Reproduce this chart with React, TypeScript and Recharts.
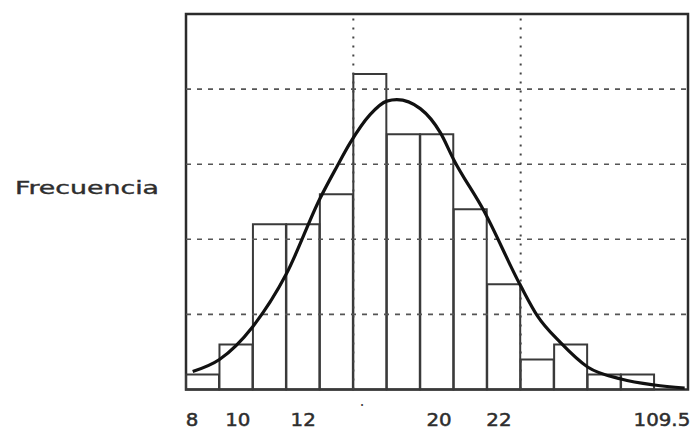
import React from 'react';
import { ComposedChart, Bar, Line, XAxis, YAxis, ReferenceLine, ReferenceArea } from 'recharts';

// Histogram bins (class index) and frequencies
const bins = ['1', '2', '3', '4', '5', '6', '7', '8', '9', '10', '11', '12', '13', '14', '15'];
const frequencies = [1, 3, 11, 11, 13, 21, 17, 17, 12, 7, 2, 3, 1, 1, 0];

// Fitted curve (x in bin units, y in frequency)
const curveX = [0.2, 1.0, 2.0, 3.0, 4.0, 4.5, 4.9, 5.5, 6.0, 6.3, 7.0, 7.6, 8.0, 8.9, 10.0, 10.5, 11.2, 12.0, 13.0, 14.0, 14.9];
const curveY = [1.2, 2.0, 4.2, 7.7, 12.7, 14.8, 16.4, 18.3, 19.2, 19.3, 18.7, 17.1, 15.3, 11.9, 6.9, 4.9, 3.1, 1.5, 0.7, 0.3, 0.1];

// X tick labels as printed under the chart
const tickPositions = [0.18, 1.55, 3.5, 5.26, 7.56, 9.35, 14.22];
const tickLabels = ['8', '10', '12', '·', '20', '22', '109.5'];

// Grid
const horizontalGrid = [5, 10, 15, 20];
const verticalGrid = [5, 10];

const yLabel = 'Frecuencia';

const barData = bins.map((b, i) => ({ bin: b, freq: frequencies[i] }));
const curveData = curveX.map((x, i) => ({ x, y: curveY[i] }));

const FONT = '"DejaVu Sans", Verdana, sans-serif';
const LABEL_BASELINE = 426;
const TEXT_COLOR = '#2e2e2e';

const CustomTick = (props: any) => {
  const { x, payload } = props;
  const idx = tickPositions.indexOf(payload.value);
  const label = idx >= 0 ? tickLabels[idx] : String(payload.value);
  if (label === '·') {
    return (
      <text x={x} y={LABEL_BASELINE - 15} textAnchor="middle" fontFamily={FONT} fontSize={16} fill="#444">
        {label}
      </text>
    );
  }
  return (
    <g transform={`translate(${x},${LABEL_BASELINE}) scale(1.1,1)`}>
      <text
        x={0}
        y={0}
        textAnchor="middle"
        fontFamily={FONT}
        fontSize={18}
        fill={TEXT_COLOR}
        stroke={TEXT_COLOR}
        strokeWidth={0.5}
      >
        {label}
      </text>
    </g>
  );
};

const YLabelContent = () => (
  <text
    x={15}
    y={194}
    fontFamily={FONT}
    fontSize={18}
    fill={TEXT_COLOR}
    stroke={TEXT_COLOR}
    strokeWidth={0.4}
    textLength={144}
    lengthAdjust="spacingAndGlyphs"
  >
    {yLabel}
  </text>
);

export default function App() {
  return (
    <div style={{ position: 'absolute', left: 0, top: 0, background: '#fff' }}>
      <ComposedChart
        width={691}
        height={434}
        data={barData}
        margin={{ top: 14, right: 3, left: 186, bottom: 14.5 }}
        barCategoryGap={0}
        barGap={0}
      >
        <XAxis xAxisId="cat" dataKey="bin" type="category" hide />
        <XAxis
          xAxisId="num"
          dataKey="x"
          type="number"
          domain={[0, 15]}
          allowDataOverflow
          ticks={tickPositions}
          interval={0}
          axisLine={false}
          tickLine={false}
          height={30}
          tick={<CustomTick />}
        />
        <YAxis domain={[0, 25]} width={0} tick={false} axisLine={false} tickLine={false} />

        {horizontalGrid.map((v) => (
          <ReferenceLine
            key={'h' + v}
            xAxisId="num"
            y={v}
            stroke="#555"
            strokeWidth={1.6}
            strokeDasharray="5 6"
          />
        ))}
        {verticalGrid.map((v) => (
          <ReferenceLine
            key={'v' + v}
            xAxisId="num"
            x={v}
            stroke="#444"
            strokeWidth={2}
            strokeDasharray="2 7"
          />
        ))}

        <Bar
          xAxisId="cat"
          dataKey="freq"
          fill="none"
          stroke="#3a3a3a"
          strokeWidth={2}
          isAnimationActive={false}
        />
        <Line
          xAxisId="num"
          data={curveData}
          dataKey="y"
          type="monotone"
          stroke="#111"
          strokeWidth={3.2}
          dot={false}
          activeDot={false}
          isAnimationActive={false}
        />
        <ReferenceArea
          xAxisId="num"
          x1={0}
          x2={15}
          y1={0}
          y2={25}
          fill="none"
          fillOpacity={0}
          stroke="#2b2b2b"
          strokeWidth={2.5}
          label={<YLabelContent />}
        />
      </ComposedChart>
    </div>
  );
}
